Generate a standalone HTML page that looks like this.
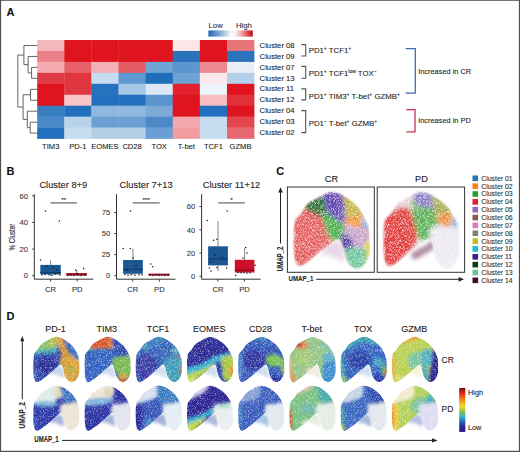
<!DOCTYPE html>
<html><head><meta charset="utf-8"><style>
html,body{margin:0;padding:0;background:#fff;}
body{width:520px;height:452px;overflow:hidden;}
svg{display:block;font-family:"Liberation Sans", sans-serif;} text{stroke:#2a2a2a;stroke-width:0.1px;}
</style></head><body>
<svg width="520" height="452" viewBox="0 0 520 452">
<defs>
<linearGradient id="gA" x1="0" x2="1" y1="0" y2="0">
 <stop offset="0" stop-color="#1f62ae"/><stop offset="0.3" stop-color="#8fb8e0"/>
 <stop offset="0.5" stop-color="#f7f7f7"/><stop offset="0.6" stop-color="#f7f3f3"/><stop offset="0.75" stop-color="#f2a2a4"/>
 <stop offset="0.92" stop-color="#e03038"/><stop offset="1" stop-color="#b4121e"/>
</linearGradient>
<linearGradient id="gD" x1="0" x2="0" y1="0" y2="1">
 <stop offset="0" stop-color="#7a0a0a"/><stop offset="0.12" stop-color="#e02818"/><stop offset="0.28" stop-color="#f08a20"/>
 <stop offset="0.42" stop-color="#f0dc28"/><stop offset="0.55" stop-color="#80c050"/><stop offset="0.65" stop-color="#30b8c8"/>
 <stop offset="0.75" stop-color="#2870c0"/><stop offset="0.88" stop-color="#2c2a98"/><stop offset="1" stop-color="#2a1670"/>
</linearGradient>

<path id="ushape" d="M48.00,0.50 C50.50,0.25 52.33,0.75 55.00,1.50 C57.67,2.25 60.83,3.25 64.00,5.00 C67.17,6.75 71.00,9.67 74.00,12.00 C77.00,14.33 79.67,16.50 82.00,19.00 C84.33,21.50 86.17,24.17 88.00,27.00 C89.83,29.83 91.50,32.50 93.00,36.00 C94.50,39.50 96.25,43.67 97.00,48.00 C97.75,52.33 97.42,57.33 97.50,62.00 C97.58,66.67 98.25,71.50 97.50,76.00 C96.75,80.50 95.25,85.58 93.00,89.00 C90.75,92.42 86.83,95.42 84.00,96.50 C81.17,97.58 78.50,96.92 76.00,95.50 C73.50,94.08 70.83,91.08 69.00,88.00 C67.17,84.92 66.08,80.67 65.00,77.00 C63.92,73.33 63.58,68.92 62.50,66.00 C61.42,63.08 60.25,59.83 58.50,59.50 C56.75,59.17 54.42,62.08 52.00,64.00 C49.58,65.92 47.00,68.33 44.00,71.00 C41.00,73.67 37.50,77.00 34.00,80.00 C30.50,83.00 26.67,86.25 23.00,89.00 C19.33,91.75 14.92,95.17 12.00,96.50 C9.08,97.83 7.25,98.42 5.50,97.00 C3.75,95.58 2.42,92.17 1.50,88.00 C0.58,83.83 0.25,77.50 0.00,72.00 C-0.25,66.50 -0.17,60.33 0.00,55.00 C0.17,49.67 0.33,43.58 1.00,40.00 C1.67,36.42 2.50,35.67 4.00,33.50 C5.50,31.33 8.25,29.33 10.00,27.00 C11.75,24.67 12.83,21.67 14.50,19.50 C16.17,17.33 17.58,15.75 20.00,14.00 C22.42,12.25 25.67,10.83 29.00,9.00 C32.33,7.17 36.83,4.42 40.00,3.00 C43.17,1.58 45.50,0.75 48.00,0.50Z"/>
<filter id="fe" filterUnits="userSpaceOnUse" x="-20" y="-20" width="140" height="140"><feGaussianBlur stdDeviation="1.1"/></filter>
<filter id="fn" filterUnits="userSpaceOnUse" x="-20" y="-20" width="140" height="140"><feGaussianBlur stdDeviation="3"/></filter>
<filter id="fb" filterUnits="userSpaceOnUse" x="-20" y="-20" width="140" height="140"><feGaussianBlur stdDeviation="3.2"/></filter>
<filter id="fc" filterUnits="userSpaceOnUse" x="-20" y="-20" width="140" height="140"><feGaussianBlur stdDeviation="2.4"/></filter>
<filter id="spk" filterUnits="userSpaceOnUse" x="-5" y="-5" width="110" height="110"><feTurbulence type="fractalNoise" baseFrequency="1.6" numOctaves="1" seed="4"/><feColorMatrix type="matrix" values="0 0 0 0 1  0 0 0 0 1  0 0 0 0 1  0 0 0 -1.9 0.98"/></filter>
<filter id="spkc" filterUnits="userSpaceOnUse" x="-5" y="-5" width="110" height="110"><feTurbulence type="fractalNoise" baseFrequency="1.3" numOctaves="1" seed="9"/><feColorMatrix type="matrix" values="0 0 0 0 1  0 0 0 0 1  0 0 0 0 1  0 0 0 -2.3 1.3"/></filter>
<mask id="mU" maskUnits="userSpaceOnUse" x="-20" y="-20" width="140" height="140"><use href="#ushape" fill="#fff" filter="url(#fe)"/></mask>
<path id="ushapec" d="M48.00,0.50 C50.50,0.25 52.33,0.75 55.00,1.50 C57.67,2.25 60.83,3.25 64.00,5.00 C67.17,6.75 71.00,9.67 74.00,12.00 C77.00,14.33 79.67,16.50 82.00,19.00 C84.33,21.50 86.17,24.17 88.00,27.00 C89.83,29.83 91.50,32.50 93.00,36.00 C94.50,39.50 96.25,43.67 97.00,48.00 C97.75,52.33 97.42,57.33 97.50,62.00 C97.58,66.67 98.25,71.50 97.50,76.00 C96.75,80.50 95.25,85.58 93.00,89.00 C90.75,92.42 86.83,95.42 84.00,96.50 C81.17,97.58 78.50,96.92 76.00,95.50 C73.50,94.08 70.83,91.08 69.00,88.00 C67.17,84.92 66.08,80.67 65.00,77.00 C63.92,73.33 63.58,68.92 62.50,66.00 C61.42,63.08 60.25,60.17 58.50,59.50 C56.75,58.83 54.42,60.58 52.00,62.00 C49.58,63.42 47.00,65.67 44.00,68.00 C41.00,70.33 37.50,73.17 34.00,76.00 C30.50,78.83 26.50,82.33 23.00,85.00 C19.50,87.67 15.83,90.58 13.00,92.00 C10.17,93.42 7.92,94.50 6.00,93.50 C4.08,92.50 2.50,89.58 1.50,86.00 C0.50,82.42 0.25,77.17 0.00,72.00 C-0.25,66.83 -0.17,60.33 0.00,55.00 C0.17,49.67 0.33,43.58 1.00,40.00 C1.67,36.42 2.50,35.67 4.00,33.50 C5.50,31.33 8.25,29.33 10.00,27.00 C11.75,24.67 12.83,21.67 14.50,19.50 C16.17,17.33 17.58,15.75 20.00,14.00 C22.42,12.25 25.67,10.83 29.00,9.00 C32.33,7.17 36.83,4.42 40.00,3.00 C43.17,1.58 45.50,0.75 48.00,0.50Z"/>
<mask id="mUc" maskUnits="userSpaceOnUse" x="-20" y="-20" width="140" height="140"><use href="#ushapec" fill="#fff" filter="url(#fe)"/></mask>
</defs>
<rect x="0" y="0" width="520" height="452" fill="#fff"/>
<text x="6.4" y="16.2" font-size="11" text-anchor="start" font-weight="bold" fill="#111" >A</text>
<rect x="208.4" y="30.4" width="44.4" height="6.2" fill="url(#gA)"/>
<text x="208.5" y="28.3" font-size="7.8" text-anchor="start" font-weight="normal" fill="#333" >Low</text>
<text x="235.9" y="28.3" font-size="7.8" text-anchor="start" font-weight="normal" fill="#333" >High</text>
<rect x="37.20" y="40.00" width="27.41" height="11.25" fill="#f4b8bc"/>
<rect x="64.31" y="40.00" width="27.41" height="11.25" fill="#e0141e"/>
<rect x="91.42" y="40.00" width="27.41" height="11.25" fill="#e0141e"/>
<rect x="118.53" y="40.00" width="27.41" height="11.25" fill="#e0141e"/>
<rect x="145.64" y="40.00" width="27.41" height="11.25" fill="#e0141e"/>
<rect x="172.75" y="40.00" width="27.41" height="11.25" fill="#fce6e8"/>
<rect x="199.86" y="40.00" width="27.41" height="11.25" fill="#e0141e"/>
<rect x="226.97" y="40.00" width="27.41" height="11.25" fill="#e8747a"/>
<rect x="37.20" y="50.95" width="27.41" height="11.25" fill="#ec8088"/>
<rect x="64.31" y="50.95" width="27.41" height="11.25" fill="#e0141e"/>
<rect x="91.42" y="50.95" width="27.41" height="11.25" fill="#e0141e"/>
<rect x="118.53" y="50.95" width="27.41" height="11.25" fill="#e0141e"/>
<rect x="145.64" y="50.95" width="27.41" height="11.25" fill="#e0141e"/>
<rect x="172.75" y="50.95" width="27.41" height="11.25" fill="#2a72bc"/>
<rect x="199.86" y="50.95" width="27.41" height="11.25" fill="#e0141e"/>
<rect x="226.97" y="50.95" width="27.41" height="11.25" fill="#2a72bc"/>
<rect x="37.20" y="61.90" width="27.41" height="11.25" fill="#f4acb0"/>
<rect x="64.31" y="61.90" width="27.41" height="11.25" fill="#e8606a"/>
<rect x="91.42" y="61.90" width="27.41" height="11.25" fill="#f4b0b4"/>
<rect x="118.53" y="61.90" width="27.41" height="11.25" fill="#e55a63"/>
<rect x="145.64" y="61.90" width="27.41" height="11.25" fill="#70a4d6"/>
<rect x="172.75" y="61.90" width="27.41" height="11.25" fill="#5a96cf"/>
<rect x="199.86" y="61.90" width="27.41" height="11.25" fill="#ee8890"/>
<rect x="226.97" y="61.90" width="27.41" height="11.25" fill="#e8eef8"/>
<rect x="37.20" y="72.85" width="27.41" height="11.25" fill="#e03c46"/>
<rect x="64.31" y="72.85" width="27.41" height="11.25" fill="#e0363f"/>
<rect x="91.42" y="72.85" width="27.41" height="11.25" fill="#c6dcf0"/>
<rect x="118.53" y="72.85" width="27.41" height="11.25" fill="#5e98d0"/>
<rect x="145.64" y="72.85" width="27.41" height="11.25" fill="#1f6ebc"/>
<rect x="172.75" y="72.85" width="27.41" height="11.25" fill="#6ca2d4"/>
<rect x="199.86" y="72.85" width="27.41" height="11.25" fill="#fce8ea"/>
<rect x="226.97" y="72.85" width="27.41" height="11.25" fill="#b4d0ea"/>
<rect x="37.20" y="83.80" width="27.41" height="11.25" fill="#e0141e"/>
<rect x="64.31" y="83.80" width="27.41" height="11.25" fill="#e0363f"/>
<rect x="91.42" y="83.80" width="27.41" height="11.25" fill="#2672bd"/>
<rect x="118.53" y="83.80" width="27.41" height="11.25" fill="#a6c6e6"/>
<rect x="145.64" y="83.80" width="27.41" height="11.25" fill="#dde8f4"/>
<rect x="172.75" y="83.80" width="27.41" height="11.25" fill="#e2232d"/>
<rect x="199.86" y="83.80" width="27.41" height="11.25" fill="#eef4fb"/>
<rect x="226.97" y="83.80" width="27.41" height="11.25" fill="#e0141e"/>
<rect x="37.20" y="94.75" width="27.41" height="11.25" fill="#e0141e"/>
<rect x="64.31" y="94.75" width="27.41" height="11.25" fill="#f8c4c8"/>
<rect x="91.42" y="94.75" width="27.41" height="11.25" fill="#2270bd"/>
<rect x="118.53" y="94.75" width="27.41" height="11.25" fill="#2270bd"/>
<rect x="145.64" y="94.75" width="27.41" height="11.25" fill="#5a94cf"/>
<rect x="172.75" y="94.75" width="27.41" height="11.25" fill="#e0141e"/>
<rect x="199.86" y="94.75" width="27.41" height="11.25" fill="#f8c0c4"/>
<rect x="226.97" y="94.75" width="27.41" height="11.25" fill="#e0303a"/>
<rect x="37.20" y="105.70" width="27.41" height="11.25" fill="#3a7ec2"/>
<rect x="64.31" y="105.70" width="27.41" height="11.25" fill="#2270bd"/>
<rect x="91.42" y="105.70" width="27.41" height="11.25" fill="#90b8de"/>
<rect x="118.53" y="105.70" width="27.41" height="11.25" fill="#90b8de"/>
<rect x="145.64" y="105.70" width="27.41" height="11.25" fill="#7eaad8"/>
<rect x="172.75" y="105.70" width="27.41" height="11.25" fill="#e0141e"/>
<rect x="199.86" y="105.70" width="27.41" height="11.25" fill="#2270bd"/>
<rect x="226.97" y="105.70" width="27.41" height="11.25" fill="#e0141e"/>
<rect x="37.20" y="116.65" width="27.41" height="11.25" fill="#4a88c8"/>
<rect x="64.31" y="116.65" width="27.41" height="11.25" fill="#b8d2ea"/>
<rect x="91.42" y="116.65" width="27.41" height="11.25" fill="#6a9ed4"/>
<rect x="118.53" y="116.65" width="27.41" height="11.25" fill="#6a9ed4"/>
<rect x="145.64" y="116.65" width="27.41" height="11.25" fill="#4a88c8"/>
<rect x="172.75" y="116.65" width="27.41" height="11.25" fill="#f4a8ae"/>
<rect x="199.86" y="116.65" width="27.41" height="11.25" fill="#c8dcf0"/>
<rect x="226.97" y="116.65" width="27.41" height="11.25" fill="#e4464f"/>
<rect x="37.20" y="127.60" width="27.41" height="11.25" fill="#2270bd"/>
<rect x="64.31" y="127.60" width="27.41" height="11.25" fill="#c8dcf0"/>
<rect x="91.42" y="127.60" width="27.41" height="11.25" fill="#b4cee8"/>
<rect x="118.53" y="127.60" width="27.41" height="11.25" fill="#b4cee8"/>
<rect x="145.64" y="127.60" width="27.41" height="11.25" fill="#6a9ed4"/>
<rect x="172.75" y="127.60" width="27.41" height="11.25" fill="#f29ca2"/>
<rect x="199.86" y="127.60" width="27.41" height="11.25" fill="#c8dcf0"/>
<rect x="226.97" y="127.60" width="27.41" height="11.25" fill="#e8686f"/>
<text x="50.76" y="148.7" font-size="7.6" text-anchor="middle" font-weight="normal" fill="#222" >TIM3</text>
<text x="77.87" y="148.7" font-size="7.6" text-anchor="middle" font-weight="normal" fill="#222" >PD-1</text>
<text x="104.97" y="148.7" font-size="7.6" text-anchor="middle" font-weight="normal" fill="#222" >EOMES</text>
<text x="132.09" y="148.7" font-size="7.6" text-anchor="middle" font-weight="normal" fill="#222" >CD28</text>
<text x="159.19" y="148.7" font-size="7.6" text-anchor="middle" font-weight="normal" fill="#222" >TOX</text>
<text x="186.31" y="148.7" font-size="7.6" text-anchor="middle" font-weight="normal" fill="#222" >T-bet</text>
<text x="213.42" y="148.7" font-size="7.6" text-anchor="middle" font-weight="normal" fill="#222" >TCF1</text>
<text x="240.52" y="148.7" font-size="7.6" text-anchor="middle" font-weight="normal" fill="#222" >GZMB</text>
<text x="259.6" y="47.68" font-size="7.7" text-anchor="start" font-weight="normal" fill="#222" >Cluster 08</text>
<text x="259.6" y="58.63" font-size="7.7" text-anchor="start" font-weight="normal" fill="#222" >Cluster 09</text>
<text x="259.6" y="69.58" font-size="7.7" text-anchor="start" font-weight="normal" fill="#222" >Cluster 07</text>
<text x="259.6" y="80.52" font-size="7.7" text-anchor="start" font-weight="normal" fill="#222" >Cluster 13</text>
<text x="259.6" y="91.47" font-size="7.7" text-anchor="start" font-weight="normal" fill="#222" >Cluster 11</text>
<text x="259.6" y="102.42" font-size="7.7" text-anchor="start" font-weight="normal" fill="#222" >Cluster 12</text>
<text x="259.6" y="113.37" font-size="7.7" text-anchor="start" font-weight="normal" fill="#222" >Cluster 04</text>
<text x="259.6" y="124.32" font-size="7.7" text-anchor="start" font-weight="normal" fill="#222" >Cluster 03</text>
<text x="259.6" y="135.27" font-size="7.7" text-anchor="start" font-weight="normal" fill="#222" >Cluster 02</text>
<line x1="23.9" y1="45.5" x2="37.3" y2="45.5" stroke="#555" stroke-width="0.9"/>
<line x1="23.9" y1="45.5" x2="23.9" y2="64.6" stroke="#555" stroke-width="0.9"/>
<line x1="28.1" y1="56.45" x2="37.3" y2="56.45" stroke="#555" stroke-width="0.9"/>
<line x1="28.1" y1="56.45" x2="28.1" y2="72.95" stroke="#555" stroke-width="0.9"/>
<line x1="23.9" y1="64.6" x2="28.1" y2="64.6" stroke="#555" stroke-width="0.9"/>
<line x1="31.6" y1="67.4" x2="37.3" y2="67.4" stroke="#555" stroke-width="0.9"/>
<line x1="31.6" y1="67.4" x2="31.6" y2="78.35" stroke="#555" stroke-width="0.9"/>
<line x1="31.6" y1="78.35" x2="37.3" y2="78.35" stroke="#555" stroke-width="0.9"/>
<line x1="28.1" y1="72.95" x2="31.6" y2="72.95" stroke="#555" stroke-width="0.9"/>
<line x1="17.8" y1="55.05" x2="23.9" y2="55.05" stroke="#555" stroke-width="0.9"/>
<line x1="30.5" y1="89.3" x2="37.3" y2="89.3" stroke="#555" stroke-width="0.9"/>
<line x1="30.5" y1="100.25" x2="37.3" y2="100.25" stroke="#555" stroke-width="0.9"/>
<line x1="30.5" y1="89.3" x2="30.5" y2="100.25" stroke="#555" stroke-width="0.9"/>
<line x1="23.1" y1="94.75" x2="30.5" y2="94.75" stroke="#555" stroke-width="0.9"/>
<line x1="27.3" y1="111.2" x2="37.3" y2="111.2" stroke="#555" stroke-width="0.9"/>
<line x1="30.2" y1="122.15" x2="37.3" y2="122.15" stroke="#555" stroke-width="0.9"/>
<line x1="30.2" y1="133.1" x2="37.3" y2="133.1" stroke="#555" stroke-width="0.9"/>
<line x1="30.2" y1="122.15" x2="30.2" y2="133.1" stroke="#555" stroke-width="0.9"/>
<line x1="27.3" y1="127.65" x2="30.2" y2="127.65" stroke="#555" stroke-width="0.9"/>
<line x1="27.3" y1="111.2" x2="27.3" y2="127.65" stroke="#555" stroke-width="0.9"/>
<line x1="23.1" y1="119.45" x2="27.3" y2="119.45" stroke="#555" stroke-width="0.9"/>
<line x1="23.1" y1="94.75" x2="23.1" y2="119.45" stroke="#555" stroke-width="0.9"/>
<line x1="17.8" y1="107.05" x2="23.1" y2="107.05" stroke="#555" stroke-width="0.9"/>
<line x1="17.8" y1="55.05" x2="17.8" y2="107.05" stroke="#555" stroke-width="0.9"/>
<path d="M301.4,44.6 H305.7 V56.0 H301.4" fill="none" stroke="#555" stroke-width="1.1"/>
<path d="M301.4,66.4 H305.7 V78.2 H301.4" fill="none" stroke="#555" stroke-width="1.1"/>
<path d="M301.4,88.9 H305.7 V99.9 H301.4" fill="none" stroke="#555" stroke-width="1.1"/>
<path d="M301.4,110.6 H305.7 V132.6 H301.4" fill="none" stroke="#555" stroke-width="1.1"/>
<path d="M405.7,48.6 H415.3 V93.2 H405.7" fill="none" stroke="#3d6fae" stroke-width="1.3"/>
<path d="M406.4,109.6 H415.0 V131.8 H406.4" fill="none" stroke="#c8334f" stroke-width="1.3"/>
<text x="308.7" y="52.9" font-size="7.8" fill="#222">PD1<tspan font-size="5" dy="-2.8">+</tspan><tspan dy="2.8"> TCF1</tspan><tspan font-size="5" dy="-2.8">+</tspan></text>
<text x="308.7" y="75.9" font-size="7.8" fill="#222">PD1<tspan font-size="5" dy="-2.8">+</tspan><tspan dy="2.8"> TCF1</tspan><tspan font-size="5" dy="-2.8">low</tspan><tspan dy="2.8"> TOX</tspan><tspan font-size="5" dy="-2.8">&#8722;</tspan></text>
<text x="308.7" y="98.6" font-size="7.8" fill="#222">PD1<tspan font-size="5" dy="-2.8">+</tspan><tspan dy="2.8"> TIM3</tspan><tspan font-size="5" dy="-2.8">+</tspan><tspan dy="2.8"> T-bet</tspan><tspan font-size="5" dy="-2.8">+</tspan><tspan dy="2.8"> GZMB</tspan><tspan font-size="5" dy="-2.8">+</tspan></text>
<text x="308.7" y="125.8" font-size="7.8" fill="#222">PD1<tspan font-size="5" dy="-2.8">&#8722;</tspan><tspan dy="2.8"> T-bet</tspan><tspan font-size="5" dy="-2.8">+</tspan><tspan dy="2.8"> GZMB</tspan><tspan font-size="5" dy="-2.8">+</tspan></text>
<text x="418.2" y="73.6" font-size="7.4" text-anchor="start" font-weight="normal" fill="#222" >Increased in CR</text>
<text x="418.2" y="123.2" font-size="7.4" text-anchor="start" font-weight="normal" fill="#222" >Increased in PD</text>
<text x="6.6" y="174.6" font-size="11" text-anchor="start" font-weight="bold" fill="#111" >B</text>
<text transform="translate(14.6,250.6) rotate(-90)" font-size="8.2" fill="#222" textLength="27" lengthAdjust="spacingAndGlyphs">% Cluster</text>
<text x="63.3" y="188.0" font-size="9.3" text-anchor="middle" font-weight="normal" fill="#222" >Cluster 8+9</text>
<line x1="34.3" y1="194.2" x2="34.3" y2="279.2" stroke="#333" stroke-width="1"/>
<line x1="34.3" y1="279.2" x2="93.3" y2="279.2" stroke="#333" stroke-width="1"/>
<line x1="32.099999999999994" y1="195.9" x2="34.3" y2="195.9" stroke="#333" stroke-width="0.9"/>
<text x="27.999999999999996" y="198.6" font-size="7.6" text-anchor="end" font-weight="normal" fill="#3a3a3a" >60</text>
<line x1="32.099999999999994" y1="222.5" x2="34.3" y2="222.5" stroke="#333" stroke-width="0.9"/>
<text x="27.999999999999996" y="225.2" font-size="7.6" text-anchor="end" font-weight="normal" fill="#3a3a3a" >40</text>
<line x1="32.099999999999994" y1="249.1" x2="34.3" y2="249.1" stroke="#333" stroke-width="0.9"/>
<text x="27.999999999999996" y="251.79999999999998" font-size="7.6" text-anchor="end" font-weight="normal" fill="#3a3a3a" >20</text>
<line x1="32.099999999999994" y1="275.7" x2="34.3" y2="275.7" stroke="#333" stroke-width="0.9"/>
<text x="27.999999999999996" y="278.4" font-size="7.6" text-anchor="end" font-weight="normal" fill="#3a3a3a" >0</text>
<line x1="50.599999999999994" y1="279.2" x2="50.599999999999994" y2="281.6" stroke="#333" stroke-width="0.9"/>
<text x="50.599999999999994" y="291.6" font-size="7.6" text-anchor="middle" font-weight="normal" fill="#333" >CR</text>
<line x1="77.19999999999999" y1="279.2" x2="77.19999999999999" y2="281.6" stroke="#333" stroke-width="0.9"/>
<text x="77.19999999999999" y="291.6" font-size="7.6" text-anchor="middle" font-weight="normal" fill="#333" >PD</text>
<line x1="50.4" y1="202.9" x2="77.0" y2="202.9" stroke="#707070" stroke-width="1.3"/>
<text x="63.7" y="202.3" font-size="6.2" text-anchor="middle" font-weight="normal" fill="#333" >**</text>
<line x1="50.55" y1="260.5" x2="50.55" y2="264.9" stroke="#777" stroke-width="0.9"/>
<line x1="50.55" y1="274.4" x2="50.55" y2="276.2" stroke="#777" stroke-width="0.9"/>
<rect x="40.3" y="264.9" width="20.5" height="9.5" fill="#1b5793"/>
<line x1="40.3" y1="272.6" x2="60.8" y2="272.6" stroke="#123e6e" stroke-width="1.2"/>
<line x1="76.65" y1="270" x2="76.65" y2="273.0" stroke="#777" stroke-width="0.9"/>
<line x1="76.65" y1="275.5" x2="76.65" y2="276" stroke="#777" stroke-width="0.9"/>
<rect x="66.3" y="273.0" width="20.700000000000003" height="2.5" fill="#c41a34"/>
<line x1="66.3" y1="274.6" x2="87.0" y2="274.6" stroke="#8a1426" stroke-width="1.2"/>
<circle cx="45.4" cy="211" r="0.75" fill="#111"/>
<circle cx="59.3" cy="220.9" r="0.75" fill="#111"/>
<circle cx="40.5" cy="260" r="0.75" fill="#111"/>
<circle cx="42" cy="275" r="0.75" fill="#111"/>
<circle cx="45" cy="274.5" r="0.75" fill="#111"/>
<circle cx="49" cy="274.8" r="0.75" fill="#111"/>
<circle cx="52" cy="275.2" r="0.75" fill="#111"/>
<circle cx="55" cy="274" r="0.75" fill="#111"/>
<circle cx="58" cy="273.5" r="0.75" fill="#111"/>
<circle cx="60" cy="275" r="0.75" fill="#111"/>
<circle cx="47" cy="266" r="0.75" fill="#111"/>
<circle cx="53" cy="268" r="0.75" fill="#111"/>
<circle cx="57" cy="270" r="0.75" fill="#111"/>
<circle cx="75.7" cy="270" r="0.75" fill="#111"/>
<circle cx="83.6" cy="268.5" r="0.75" fill="#111"/>
<circle cx="68" cy="275.4" r="0.75" fill="#111"/>
<circle cx="71" cy="275.2" r="0.75" fill="#111"/>
<circle cx="74" cy="275.5" r="0.75" fill="#111"/>
<circle cx="78" cy="275.1" r="0.75" fill="#111"/>
<circle cx="81" cy="275.4" r="0.75" fill="#111"/>
<circle cx="85" cy="275.3" r="0.75" fill="#111"/>
<circle cx="70" cy="274" r="0.75" fill="#111"/>
<circle cx="77" cy="273.6" r="0.75" fill="#111"/>
<circle cx="82" cy="274.2" r="0.75" fill="#111"/>
<text x="146.1" y="188.0" font-size="9.3" text-anchor="middle" font-weight="normal" fill="#222" >Cluster 7+13</text>
<line x1="116.5" y1="194.2" x2="116.5" y2="279.2" stroke="#333" stroke-width="1"/>
<line x1="116.5" y1="279.2" x2="175.5" y2="279.2" stroke="#333" stroke-width="1"/>
<line x1="114.3" y1="212.5" x2="116.5" y2="212.5" stroke="#333" stroke-width="0.9"/>
<text x="110.2" y="215.2" font-size="7.6" text-anchor="end" font-weight="normal" fill="#3a3a3a" >75</text>
<line x1="114.3" y1="233.5" x2="116.5" y2="233.5" stroke="#333" stroke-width="0.9"/>
<text x="110.2" y="236.2" font-size="7.6" text-anchor="end" font-weight="normal" fill="#3a3a3a" >50</text>
<line x1="114.3" y1="254.6" x2="116.5" y2="254.6" stroke="#333" stroke-width="0.9"/>
<text x="110.2" y="257.3" font-size="7.6" text-anchor="end" font-weight="normal" fill="#3a3a3a" >25</text>
<line x1="114.3" y1="275.6" x2="116.5" y2="275.6" stroke="#333" stroke-width="0.9"/>
<text x="110.2" y="278.3" font-size="7.6" text-anchor="end" font-weight="normal" fill="#3a3a3a" >0</text>
<line x1="132.8" y1="279.2" x2="132.8" y2="281.6" stroke="#333" stroke-width="0.9"/>
<text x="132.8" y="291.6" font-size="7.6" text-anchor="middle" font-weight="normal" fill="#333" >CR</text>
<line x1="159.4" y1="279.2" x2="159.4" y2="281.6" stroke="#333" stroke-width="0.9"/>
<text x="159.4" y="291.6" font-size="7.6" text-anchor="middle" font-weight="normal" fill="#333" >PD</text>
<line x1="132.7" y1="202.9" x2="159.7" y2="202.9" stroke="#707070" stroke-width="1.3"/>
<text x="146.2" y="202.3" font-size="6.2" text-anchor="middle" font-weight="normal" fill="#333" >***</text>
<line x1="132.95" y1="248.6" x2="132.95" y2="260.0" stroke="#777" stroke-width="0.9"/>
<line x1="132.95" y1="273.8" x2="132.95" y2="275.0" stroke="#777" stroke-width="0.9"/>
<rect x="123.1" y="260.0" width="19.700000000000017" height="13.800000000000011" fill="#1b5793"/>
<line x1="123.1" y1="269.2" x2="142.8" y2="269.2" stroke="#123e6e" stroke-width="1.2"/>
<line x1="159.0" y1="274" x2="159.0" y2="273.6" stroke="#777" stroke-width="0.9"/>
<line x1="159.0" y1="275.5" x2="159.0" y2="275.6" stroke="#777" stroke-width="0.9"/>
<rect x="148.5" y="273.6" width="21.0" height="1.8999999999999773" fill="#c41a34"/>
<line x1="148.5" y1="274.6" x2="169.5" y2="274.6" stroke="#8a1426" stroke-width="1.2"/>
<circle cx="130.5" cy="211" r="0.75" fill="#111"/>
<circle cx="123.2" cy="248.6" r="0.75" fill="#111"/>
<circle cx="130.3" cy="248.6" r="0.75" fill="#111"/>
<circle cx="133.1" cy="257.9" r="0.75" fill="#111"/>
<circle cx="125" cy="274.5" r="0.75" fill="#111"/>
<circle cx="128" cy="275" r="0.75" fill="#111"/>
<circle cx="131" cy="274.7" r="0.75" fill="#111"/>
<circle cx="135" cy="275.2" r="0.75" fill="#111"/>
<circle cx="139" cy="274.8" r="0.75" fill="#111"/>
<circle cx="142" cy="275" r="0.75" fill="#111"/>
<circle cx="127" cy="270" r="0.75" fill="#111"/>
<circle cx="136" cy="266" r="0.75" fill="#111"/>
<circle cx="150.8" cy="264" r="0.75" fill="#111"/>
<circle cx="152.6" cy="266.7" r="0.75" fill="#111"/>
<circle cx="150" cy="275.3" r="0.75" fill="#111"/>
<circle cx="153" cy="275.5" r="0.75" fill="#111"/>
<circle cx="156" cy="275.2" r="0.75" fill="#111"/>
<circle cx="159" cy="275.4" r="0.75" fill="#111"/>
<circle cx="162" cy="275.3" r="0.75" fill="#111"/>
<circle cx="165" cy="275.5" r="0.75" fill="#111"/>
<circle cx="168" cy="275.2" r="0.75" fill="#111"/>
<text x="231.5" y="188.0" font-size="9.3" text-anchor="middle" font-weight="normal" fill="#222" >Cluster 11+12</text>
<line x1="201.6" y1="194.2" x2="201.6" y2="279.2" stroke="#333" stroke-width="1"/>
<line x1="201.6" y1="279.2" x2="260.6" y2="279.2" stroke="#333" stroke-width="1"/>
<line x1="199.4" y1="206.5" x2="201.6" y2="206.5" stroke="#333" stroke-width="0.9"/>
<text x="195.29999999999998" y="209.2" font-size="7.6" text-anchor="end" font-weight="normal" fill="#3a3a3a" >60</text>
<line x1="199.4" y1="229.8" x2="201.6" y2="229.8" stroke="#333" stroke-width="0.9"/>
<text x="195.29999999999998" y="232.5" font-size="7.6" text-anchor="end" font-weight="normal" fill="#3a3a3a" >40</text>
<line x1="199.4" y1="253.0" x2="201.6" y2="253.0" stroke="#333" stroke-width="0.9"/>
<text x="195.29999999999998" y="255.7" font-size="7.6" text-anchor="end" font-weight="normal" fill="#3a3a3a" >20</text>
<line x1="199.4" y1="276.2" x2="201.6" y2="276.2" stroke="#333" stroke-width="0.9"/>
<text x="195.29999999999998" y="278.9" font-size="7.6" text-anchor="end" font-weight="normal" fill="#3a3a3a" >0</text>
<line x1="217.9" y1="279.2" x2="217.9" y2="281.6" stroke="#333" stroke-width="0.9"/>
<text x="217.9" y="291.6" font-size="7.6" text-anchor="middle" font-weight="normal" fill="#333" >CR</text>
<line x1="244.5" y1="279.2" x2="244.5" y2="281.6" stroke="#333" stroke-width="0.9"/>
<text x="244.5" y="291.6" font-size="7.6" text-anchor="middle" font-weight="normal" fill="#333" >PD</text>
<line x1="218.2" y1="202.9" x2="244.8" y2="202.9" stroke="#707070" stroke-width="1.3"/>
<text x="231.5" y="202.3" font-size="6.2" text-anchor="middle" font-weight="normal" fill="#333" >*</text>
<line x1="218.0" y1="221.0" x2="218.0" y2="246.3" stroke="#777" stroke-width="0.9"/>
<line x1="218.0" y1="265.4" x2="218.0" y2="271.0" stroke="#777" stroke-width="0.9"/>
<rect x="208.1" y="246.3" width="19.80000000000001" height="19.099999999999966" fill="#1b5793"/>
<line x1="208.1" y1="259.0" x2="227.9" y2="259.0" stroke="#123e6e" stroke-width="1.2"/>
<line x1="244.60000000000002" y1="248.0" x2="244.60000000000002" y2="259.8" stroke="#777" stroke-width="0.9"/>
<line x1="244.60000000000002" y1="272.5" x2="244.60000000000002" y2="272.8" stroke="#777" stroke-width="0.9"/>
<rect x="234.8" y="259.8" width="19.599999999999994" height="12.699999999999989" fill="#d0102a"/>
<line x1="234.8" y1="270.2" x2="254.4" y2="270.2" stroke="#7a1020" stroke-width="1.2"/>
<circle cx="207.2" cy="220.5" r="0.75" fill="#111"/>
<circle cx="216.9" cy="239.3" r="0.75" fill="#111"/>
<circle cx="213.6" cy="240.2" r="0.75" fill="#111"/>
<circle cx="227.1" cy="211" r="0.75" fill="#111"/>
<circle cx="209.5" cy="268" r="0.75" fill="#111"/>
<circle cx="211" cy="271" r="0.75" fill="#111"/>
<circle cx="217" cy="267.5" r="0.75" fill="#111"/>
<circle cx="226.5" cy="268" r="0.75" fill="#111"/>
<circle cx="210" cy="262" r="0.75" fill="#111"/>
<circle cx="222" cy="258" r="0.75" fill="#111"/>
<circle cx="215" cy="255" r="0.75" fill="#111"/>
<circle cx="245.7" cy="247.5" r="0.75" fill="#111"/>
<circle cx="247" cy="253" r="0.75" fill="#111"/>
<circle cx="243" cy="258" r="0.75" fill="#111"/>
<circle cx="255.2" cy="265.2" r="0.75" fill="#111"/>
<circle cx="235.7" cy="275.6" r="0.75" fill="#111"/>
<circle cx="238" cy="272.5" r="0.75" fill="#111"/>
<circle cx="241" cy="272.8" r="0.75" fill="#111"/>
<circle cx="244" cy="272.6" r="0.75" fill="#111"/>
<circle cx="247" cy="272.9" r="0.75" fill="#111"/>
<circle cx="250" cy="272.7" r="0.75" fill="#111"/>
<text x="276.3" y="174.6" font-size="11" text-anchor="start" font-weight="bold" fill="#111" >C</text>
<text x="331.4" y="182.2" font-size="9.2" text-anchor="middle" font-weight="normal" fill="#222" >CR</text>
<text x="421.4" y="182.2" font-size="9.2" text-anchor="middle" font-weight="normal" fill="#222" >PD</text>
<rect x="287.4" y="187.0" width="86.9" height="85.3" fill="none" stroke="#333" stroke-width="1"/>
<rect x="377.2" y="187.0" width="87.4" height="85.3" fill="none" stroke="#333" stroke-width="1"/>
<rect x="472.5" y="175.50" width="5.6" height="5.6" fill="#1f77b4"/>
<text x="481.2" y="180.7" font-size="6.9" text-anchor="start" font-weight="normal" fill="#333" >Cluster 01</text>
<rect x="472.5" y="183.35" width="5.6" height="5.6" fill="#ff7f0e"/>
<text x="481.2" y="188.55" font-size="6.9" text-anchor="start" font-weight="normal" fill="#333" >Cluster 02</text>
<rect x="472.5" y="191.20" width="5.6" height="5.6" fill="#2ca02c"/>
<text x="481.2" y="196.4" font-size="6.9" text-anchor="start" font-weight="normal" fill="#333" >Cluster 03</text>
<rect x="472.5" y="199.05" width="5.6" height="5.6" fill="#d62728"/>
<text x="481.2" y="204.25" font-size="6.9" text-anchor="start" font-weight="normal" fill="#333" >Cluster 04</text>
<rect x="472.5" y="206.90" width="5.6" height="5.6" fill="#9467bd"/>
<text x="481.2" y="212.1" font-size="6.9" text-anchor="start" font-weight="normal" fill="#333" >Cluster 05</text>
<rect x="472.5" y="214.75" width="5.6" height="5.6" fill="#8c564b"/>
<text x="481.2" y="219.95" font-size="6.9" text-anchor="start" font-weight="normal" fill="#333" >Cluster 06</text>
<rect x="472.5" y="222.60" width="5.6" height="5.6" fill="#e377c2"/>
<text x="481.2" y="227.8" font-size="6.9" text-anchor="start" font-weight="normal" fill="#333" >Cluster 07</text>
<rect x="472.5" y="230.45" width="5.6" height="5.6" fill="#7f7f7f"/>
<text x="481.2" y="235.65" font-size="6.9" text-anchor="start" font-weight="normal" fill="#333" >Cluster 08</text>
<rect x="472.5" y="238.30" width="5.6" height="5.6" fill="#bcbd22"/>
<text x="481.2" y="243.5" font-size="6.9" text-anchor="start" font-weight="normal" fill="#333" >Cluster 09</text>
<rect x="472.5" y="246.15" width="5.6" height="5.6" fill="#17becf"/>
<text x="481.2" y="251.35" font-size="6.9" text-anchor="start" font-weight="normal" fill="#333" >Cluster 10</text>
<rect x="472.5" y="254.00" width="5.6" height="5.6" fill="#3b1f8e"/>
<text x="481.2" y="259.2" font-size="6.9" text-anchor="start" font-weight="normal" fill="#333" >Cluster 11</text>
<rect x="472.5" y="261.85" width="5.6" height="5.6" fill="#0d3b12"/>
<text x="481.2" y="267.05" font-size="6.9" text-anchor="start" font-weight="normal" fill="#333" >Cluster 12</text>
<rect x="472.5" y="269.70" width="5.6" height="5.6" fill="#6cc49c"/>
<text x="481.2" y="274.9" font-size="6.9" text-anchor="start" font-weight="normal" fill="#333" >Cluster 13</text>
<rect x="472.5" y="277.55" width="5.6" height="5.6" fill="#4a0a2e"/>
<text x="481.2" y="282.75" font-size="6.9" text-anchor="start" font-weight="normal" fill="#333" >Cluster 14</text>
<line x1="280.5" y1="191.5" x2="280.5" y2="243.5" stroke="#222" stroke-width="1"/>
<path d="M278.2,192.6 L280.5,187.2 L282.8,192.6 Z" fill="#222"/>
<text transform="translate(282.9,271.3) rotate(-90)" font-size="8.6" font-weight="bold" fill="#222" textLength="24.6" lengthAdjust="spacingAndGlyphs">UMAP_2</text>
<text x="288.6" y="281.2" font-size="8.0" font-weight="bold" fill="#222" textLength="24.8" lengthAdjust="spacingAndGlyphs">UMAP_1</text>
<line x1="316.2" y1="279.3" x2="460" y2="279.3" stroke="#222" stroke-width="1"/>
<path d="M458.6,276.9 L464.0,279.3 L458.6,281.7 Z" fill="#222"/>
<g transform="translate(293.5,191.3) scale(0.78,0.8)">
<path d="M40.00,68.00 C42.33,65.33 46.50,64.67 50.00,64.00 C53.50,63.33 58.50,61.33 61.00,64.00 C63.50,66.67 64.50,76.00 65.00,80.00 C65.50,84.00 65.67,87.33 64.00,88.00 C62.33,88.67 58.17,85.33 55.00,84.00 C51.83,82.67 48.17,80.67 45.00,80.00 C41.83,79.33 36.83,82.00 36.00,80.00 C35.17,78.00 37.67,70.67 40.00,68.00Z" fill="#d0a8c8" fill-opacity="0.45" filter="url(#fn)"/>
<g mask="url(#mUc)">
<use href="#ushapec" fill="#e4a0a0"/>
<g filter="url(#fc)">
<path d="M0.00,36.00 C0.55,28.92 1.43,29.17 3.30,27.00 C5.17,24.83 9.02,23.90 11.20,23.00 C13.38,22.10 14.22,21.18 16.40,21.60 C18.58,22.02 21.67,24.00 24.30,25.50 C26.93,27.00 29.78,28.88 32.20,30.60 C34.62,32.32 36.60,33.00 38.80,35.80 C41.00,38.60 43.65,43.32 45.40,47.40 C47.15,51.48 48.87,57.28 49.30,60.30 C49.73,63.32 50.18,63.33 48.00,65.50 C45.82,67.67 40.58,69.83 36.20,73.30 C31.82,76.77 25.30,83.05 21.70,86.30 C18.10,89.55 17.23,91.50 14.60,92.80 C11.97,94.10 8.22,95.18 5.90,94.10 C3.58,93.02 1.68,90.40 0.70,86.30 C-0.28,82.20 0.12,77.88 0.00,69.50 C-0.12,61.12 -0.55,43.08 0.00,36.00Z" fill="#e45c5c"/>
<path d="M13.80,17.60 C14.47,15.70 16.68,12.80 19.10,11.20 C21.52,9.60 25.45,8.87 28.30,8.00 C31.15,7.13 34.23,5.47 36.20,6.00 C38.17,6.53 39.00,8.17 40.10,11.20 C41.20,14.23 42.58,20.32 42.80,24.20 C43.02,28.08 42.72,33.22 41.40,34.50 C40.08,35.78 37.75,33.20 34.90,31.90 C32.05,30.60 27.60,28.25 24.30,26.70 C21.00,25.15 16.85,24.12 15.10,22.60 C13.35,21.08 13.13,19.50 13.80,17.60Z" fill="#2a7030"/>
<path d="M36.20,6.00 C36.42,4.38 39.43,2.50 41.40,1.50 C43.37,0.50 45.37,-0.02 48.00,0.00 C50.63,0.02 54.57,0.58 57.20,1.60 C59.83,2.62 62.37,3.42 63.80,6.10 C65.23,8.78 65.37,13.62 65.80,17.70 C66.23,21.78 66.52,26.93 66.40,30.60 C66.28,34.27 66.40,38.62 65.10,39.70 C63.80,40.78 60.78,38.18 58.60,37.10 C56.42,36.02 54.42,34.93 52.00,33.20 C49.58,31.47 46.08,30.37 44.10,26.70 C42.12,23.03 41.42,14.65 40.10,11.20 C38.78,7.75 35.98,7.62 36.20,6.00Z" fill="#5c42b0"/>
<path d="M41.40,26.70 C43.82,26.48 48.70,31.03 52.00,33.20 C55.30,35.37 59.02,37.77 61.20,39.70 C63.38,41.63 64.45,42.22 65.10,44.80 C65.75,47.38 65.75,52.62 65.10,55.20 C64.45,57.78 63.38,59.02 61.20,60.30 C59.02,61.58 54.63,63.53 52.00,62.90 C49.37,62.27 47.38,59.52 45.40,56.50 C43.42,53.48 41.42,48.47 40.10,44.80 C38.78,41.13 37.28,37.52 37.50,34.50 C37.72,31.48 38.98,26.92 41.40,26.70Z" fill="#4cb04e"/>
<path d="M63.80,6.10 C65.55,4.60 73.00,7.20 76.30,8.70 C79.60,10.20 81.95,12.52 83.60,15.10 C85.25,17.68 85.98,21.18 86.20,24.20 C86.42,27.22 86.88,31.48 84.90,33.20 C82.92,34.92 77.38,34.72 74.30,34.50 C71.22,34.28 67.82,34.70 66.40,31.90 C64.98,29.10 66.23,22.00 65.80,17.70 C65.37,13.40 62.05,7.60 63.80,6.10Z" fill="#c0b040"/>
<path d="M69.10,31.90 C71.50,30.38 79.13,29.73 82.20,30.60 C85.27,31.47 87.05,34.95 87.50,37.10 C87.95,39.25 87.10,42.22 84.90,43.50 C82.70,44.78 77.15,45.43 74.30,44.80 C71.45,44.17 68.67,41.85 67.80,39.70 C66.93,37.55 66.70,33.42 69.10,31.90Z" fill="#f09a38"/>
<path d="M87.50,35.80 C88.60,34.52 93.65,36.02 95.40,37.10 C97.15,38.18 98.00,40.57 98.00,42.30 C98.00,44.03 96.93,47.08 95.40,47.50 C93.87,47.92 90.12,46.75 88.80,44.80 C87.48,42.85 86.40,37.08 87.50,35.80Z" fill="#80b8e0"/>
<path d="M66.40,44.80 C68.38,42.63 73.48,44.37 77.00,44.80 C80.52,45.23 84.43,45.88 87.50,47.40 C90.57,48.92 94.08,51.32 95.40,53.90 C96.72,56.48 96.28,60.10 95.40,62.90 C94.52,65.70 92.73,69.18 90.10,70.70 C87.47,72.22 82.88,72.20 79.60,72.00 C76.32,71.80 72.82,71.87 70.40,69.50 C67.98,67.13 65.77,61.92 65.10,57.80 C64.43,53.68 64.42,46.97 66.40,44.80Z" fill="#c4a0cc"/>
<path d="M61.20,54.30 C62.73,53.00 66.68,54.08 69.10,55.60 C71.52,57.12 74.60,60.37 75.70,63.40 C76.80,66.43 76.80,71.63 75.70,73.80 C74.60,75.97 71.30,76.83 69.10,76.40 C66.90,75.97 64.03,73.37 62.50,71.20 C60.97,69.03 60.12,66.22 59.90,63.40 C59.68,60.58 59.67,55.60 61.20,54.30Z" fill="#5034a0"/>
<path d="M91.40,62.90 C92.72,61.18 96.57,63.35 98.00,65.50 C99.43,67.65 100.00,72.35 100.00,75.80 C100.00,79.25 99.20,84.03 98.00,86.20 C96.80,88.37 94.12,90.53 92.80,88.80 C91.48,87.07 90.33,80.12 90.10,75.80 C89.87,71.48 90.08,64.62 91.40,62.90Z" fill="#d8cc30"/>
<path d="M67.10,72.00 C69.45,70.07 76.35,70.70 80.30,70.70 C84.25,70.70 88.62,70.07 90.80,72.00 C92.98,73.93 93.18,78.63 93.40,82.30 C93.62,85.97 93.73,91.05 92.10,94.00 C90.47,96.95 86.57,99.37 83.60,100.00 C80.63,100.63 76.83,99.25 74.30,97.80 C71.77,96.35 69.75,93.88 68.40,91.30 C67.05,88.72 66.42,85.52 66.20,82.30 C65.98,79.08 64.75,73.93 67.10,72.00Z" fill="#68c498"/>
</g>
<rect x="-5" y="-5" width="110" height="110" filter="url(#spkc)"/>
</g></g>
<g transform="translate(383.3,191.3) scale(0.78,0.8)">
<path d="M36.00,78.00 C37.67,75.50 45.33,72.67 50.00,70.00 C54.67,67.33 61.17,62.00 64.00,62.00 C66.83,62.00 69.00,67.17 67.00,70.00 C65.00,72.83 56.50,76.50 52.00,79.00 C47.50,81.50 42.67,85.17 40.00,85.00 C37.33,84.83 34.33,80.50 36.00,78.00Z" fill="#8a5a7a" fill-opacity="0.7" filter="url(#fc)"/>
<g mask="url(#mUc)">
<use href="#ushapec" fill="#ece4ea"/>
<g filter="url(#fc)">
<path d="M0.00,35.00 C1.00,29.50 2.50,29.33 5.00,27.00 C7.50,24.67 11.67,22.17 15.00,21.00 C18.33,19.83 22.00,19.83 25.00,20.00 C28.00,20.17 30.50,19.67 33.00,22.00 C35.50,24.33 38.17,29.33 40.00,34.00 C41.83,38.67 43.67,45.00 44.00,50.00 C44.33,55.00 44.00,59.67 42.00,64.00 C40.00,68.33 35.50,72.00 32.00,76.00 C28.50,80.00 24.50,84.50 21.00,88.00 C17.50,91.50 13.67,95.83 11.00,97.00 C8.33,98.17 6.83,97.00 5.00,95.00 C3.17,93.00 1.00,90.83 0.00,85.00 C-1.00,79.17 -1.00,68.33 -1.00,60.00 C-1.00,51.67 -1.00,40.50 0.00,35.00Z" fill="#e03c3c"/>
<path d="M8.00,18.00 C9.33,15.33 15.50,10.33 20.00,8.00 C24.50,5.67 31.33,3.67 35.00,4.00 C38.67,4.33 41.83,7.33 42.00,10.00 C42.17,12.67 39.33,18.33 36.00,20.00 C32.67,21.67 26.00,19.33 22.00,20.00 C18.00,20.67 14.33,24.33 12.00,24.00 C9.67,23.67 6.67,20.67 8.00,18.00Z" fill="#e6d2d2"/>
<path d="M34.00,16.00 C34.33,13.33 39.33,8.67 42.00,8.00 C44.67,7.33 48.67,9.67 50.00,12.00 C51.33,14.33 51.67,20.00 50.00,22.00 C48.33,24.00 42.67,25.00 40.00,24.00 C37.33,23.00 33.67,18.67 34.00,16.00Z" fill="#90bc80"/>
<path d="M37.00,2.00 C38.00,-0.33 44.50,0.00 48.00,0.00 C51.50,0.00 55.00,0.67 58.00,2.00 C61.00,3.33 64.67,5.00 66.00,8.00 C67.33,11.00 67.00,17.33 66.00,20.00 C65.00,22.67 62.67,23.67 60.00,24.00 C57.33,24.33 53.00,23.67 50.00,22.00 C47.00,20.33 44.17,17.33 42.00,14.00 C39.83,10.67 36.00,4.33 37.00,2.00Z" fill="#8a7ac8"/>
<path d="M36.00,24.00 C36.83,20.67 41.33,20.67 45.00,20.00 C48.67,19.33 54.50,19.33 58.00,20.00 C61.50,20.67 64.00,21.50 66.00,24.00 C68.00,26.50 69.67,30.67 70.00,35.00 C70.33,39.33 69.67,45.83 68.00,50.00 C66.33,54.17 63.00,58.00 60.00,60.00 C57.00,62.00 52.67,62.83 50.00,62.00 C47.33,61.17 45.67,58.67 44.00,55.00 C42.33,51.33 41.33,45.17 40.00,40.00 C38.67,34.83 35.17,27.33 36.00,24.00Z" fill="#5ab052"/>
<path d="M62.00,8.00 C63.50,5.33 71.33,7.83 75.00,9.00 C78.67,10.17 81.83,12.33 84.00,15.00 C86.17,17.67 87.50,21.67 88.00,25.00 C88.50,28.33 88.33,32.50 87.00,35.00 C85.67,37.50 82.83,39.17 80.00,40.00 C77.17,40.83 72.33,42.50 70.00,40.00 C67.67,37.50 67.33,30.33 66.00,25.00 C64.67,19.67 60.50,10.67 62.00,8.00Z" fill="#a8a850"/>
<path d="M72.00,28.00 C74.33,26.33 81.00,26.33 84.00,28.00 C87.00,29.67 89.67,35.33 90.00,38.00 C90.33,40.67 88.33,43.00 86.00,44.00 C83.67,45.00 78.67,45.00 76.00,44.00 C73.33,43.00 70.67,40.67 70.00,38.00 C69.33,35.33 69.67,29.67 72.00,28.00Z" fill="#f09040"/>
<ellipse cx="94" cy="38" rx="4" ry="7" fill="#3a88d0"/>
<path d="M86.00,40.00 C87.00,38.67 92.50,40.33 94.00,42.00 C95.50,43.67 96.00,48.67 95.00,50.00 C94.00,51.33 89.50,51.67 88.00,50.00 C86.50,48.33 85.00,41.33 86.00,40.00Z" fill="#b0d8ec"/>
<path d="M61.00,46.00 C64.17,42.33 74.33,43.33 80.00,44.00 C85.67,44.67 91.67,45.67 95.00,50.00 C98.33,54.33 99.50,63.33 100.00,70.00 C100.50,76.67 100.50,85.00 98.00,90.00 C95.50,95.00 89.33,98.83 85.00,100.00 C80.67,101.17 75.50,99.50 72.00,97.00 C68.50,94.50 65.83,90.17 64.00,85.00 C62.17,79.83 61.50,72.50 61.00,66.00 C60.50,59.50 57.83,49.67 61.00,46.00Z" fill="#ece8f2"/>
</g>
<rect x="-5" y="-5" width="110" height="110" filter="url(#spkc)"/>
</g></g>
<g transform="translate(33.24,336.6) scale(0.472,0.468)">
<path d="M40.00,68.00 C42.33,65.33 46.50,64.67 50.00,64.00 C53.50,63.33 58.50,61.33 61.00,64.00 C63.50,66.67 64.50,76.00 65.00,80.00 C65.50,84.00 65.67,87.33 64.00,88.00 C62.33,88.67 58.17,85.33 55.00,84.00 C51.83,82.67 48.17,80.67 45.00,80.00 C41.83,79.33 36.83,82.00 36.00,80.00 C35.17,78.00 37.67,70.67 40.00,68.00Z" fill="#a0b8e0" fill-opacity="0.6" filter="url(#fn)"/>
<g mask="url(#mU)">
<use href="#ushape" fill="#3044aa"/>
<g filter="url(#fb)">
<path d="M-10.00,38.00 C-14.17,35.33 -8.33,25.50 -5.00,20.00 C-1.67,14.50 4.17,9.17 10.00,5.00 C15.83,0.83 23.83,-2.50 30.00,-5.00 C36.17,-7.50 43.33,-12.50 47.00,-10.00 C50.67,-7.50 51.50,3.33 52.00,10.00 C52.50,16.67 52.00,25.67 50.00,30.00 C48.00,34.33 45.00,35.00 40.00,36.00 C35.00,37.00 28.33,35.67 20.00,36.00 C11.67,36.33 -5.83,40.67 -10.00,38.00Z" fill="#40a8b0"/>
<path d="M5.00,22.00 C6.33,18.17 14.17,9.50 20.00,5.00 C25.83,0.50 35.00,-5.00 40.00,-5.00 C45.00,-5.00 48.67,0.50 50.00,5.00 C51.33,9.50 51.33,18.50 48.00,22.00 C44.67,25.50 36.00,25.00 30.00,26.00 C24.00,27.00 16.17,28.67 12.00,28.00 C7.83,27.33 3.67,25.83 5.00,22.00Z" fill="#88c060"/>
<ellipse cx="42" cy="12" rx="8" ry="10" fill="#b8c050"/>
<path d="M58.00,44.00 C60.83,38.17 66.33,40.33 75.00,40.00 C83.67,39.67 104.17,30.33 110.00,42.00 C115.83,53.67 118.33,98.67 110.00,110.00 C101.67,121.33 68.67,115.83 60.00,110.00 C51.33,104.17 58.33,86.00 58.00,75.00 C57.67,64.00 55.17,49.83 58.00,44.00Z" fill="#d8a030"/>
<path d="M44.00,-10.00 C44.00,-16.00 51.67,-15.33 56.00,-10.00 C60.33,-4.67 66.33,13.00 70.00,22.00 C73.67,31.00 78.67,39.33 78.00,44.00 C77.33,48.67 69.67,53.00 66.00,50.00 C62.33,47.00 59.67,36.00 56.00,26.00 C52.33,16.00 44.00,-4.00 44.00,-10.00Z" fill="#d89a30"/>
<path d="M62.00,-10.00 C64.50,-12.00 77.83,-5.00 85.00,0.00 C92.17,5.00 100.83,12.00 105.00,20.00 C109.17,28.00 112.50,43.33 110.00,48.00 C107.50,52.67 94.67,50.00 90.00,48.00 C85.33,46.00 85.33,42.00 82.00,36.00 C78.67,30.00 73.33,19.67 70.00,12.00 C66.67,4.33 59.50,-8.00 62.00,-10.00Z" fill="#3a78c2"/>
<ellipse cx="80" cy="70" rx="7" ry="8" fill="#a8b040"/>
<ellipse cx="96" cy="93" rx="7" ry="7" fill="#c84020"/>
<ellipse cx="30" cy="62" rx="20" ry="18" fill="#2a3296"/>
<ellipse cx="2" cy="80" rx="5" ry="12" fill="#3a5ab8"/>
</g>
<rect x="-5" y="-5" width="110" height="110" filter="url(#spk)"/>
</g></g>
<g transform="translate(33.24,385.2) scale(0.472,0.468)">
<path d="M40.00,68.00 C42.33,65.33 46.50,64.67 50.00,64.00 C53.50,63.33 58.50,61.33 61.00,64.00 C63.50,66.67 64.50,76.00 65.00,80.00 C65.50,84.00 65.67,87.33 64.00,88.00 C62.33,88.67 58.17,85.33 55.00,84.00 C51.83,82.67 48.17,80.67 45.00,80.00 C41.83,79.33 36.83,82.00 36.00,80.00 C35.17,78.00 37.67,70.67 40.00,68.00Z" fill="#4060b0" fill-opacity="0.45" filter="url(#fn)"/>
<g mask="url(#mU)">
<use href="#ushape" fill="#2c38a8"/>
<g filter="url(#fb)">
<path d="M-10.00,38.00 C-14.17,35.33 -8.33,25.50 -5.00,20.00 C-1.67,14.50 4.17,9.17 10.00,5.00 C15.83,0.83 23.83,-2.50 30.00,-5.00 C36.17,-7.50 43.33,-12.50 47.00,-10.00 C50.67,-7.50 51.50,3.33 52.00,10.00 C52.50,16.67 52.00,25.67 50.00,30.00 C48.00,34.33 45.00,35.00 40.00,36.00 C35.00,37.00 28.33,35.67 20.00,36.00 C11.67,36.33 -5.83,40.67 -10.00,38.00Z" fill="#dceae8"/>
<ellipse cx="55" cy="12" rx="10" ry="16" fill="#e0dab0"/>
<ellipse cx="28" cy="40" rx="26" ry="6" fill="#70b0d0"/>
<path d="M56.00,-10.00 C59.00,-14.17 71.83,-5.00 80.00,0.00 C88.17,5.00 100.00,11.67 105.00,20.00 C110.00,28.33 112.83,45.00 110.00,50.00 C107.17,55.00 94.33,51.00 88.00,50.00 C81.67,49.00 76.33,48.17 72.00,44.00 C67.67,39.83 64.67,34.00 62.00,25.00 C59.33,16.00 53.00,-5.83 56.00,-10.00Z" fill="#3a70c0"/>
<path d="M58.00,44.00 C60.83,38.17 66.33,40.33 75.00,40.00 C83.67,39.67 104.17,30.33 110.00,42.00 C115.83,53.67 118.33,98.67 110.00,110.00 C101.67,121.33 68.67,115.83 60.00,110.00 C51.33,104.17 58.33,86.00 58.00,75.00 C57.67,64.00 55.17,49.83 58.00,44.00Z" fill="#ece4d4"/>
<ellipse cx="2" cy="80" rx="6" ry="12" fill="#3a58c0"/>
</g>
<rect x="-5" y="-5" width="110" height="110" filter="url(#spk)"/>
</g></g>
<g transform="translate(84.49,336.6) scale(0.472,0.468)">
<path d="M40.00,68.00 C42.33,65.33 46.50,64.67 50.00,64.00 C53.50,63.33 58.50,61.33 61.00,64.00 C63.50,66.67 64.50,76.00 65.00,80.00 C65.50,84.00 65.67,87.33 64.00,88.00 C62.33,88.67 58.17,85.33 55.00,84.00 C51.83,82.67 48.17,80.67 45.00,80.00 C41.83,79.33 36.83,82.00 36.00,80.00 C35.17,78.00 37.67,70.67 40.00,68.00Z" fill="#a0b8e0" fill-opacity="0.5" filter="url(#fn)"/>
<g mask="url(#mU)">
<use href="#ushape" fill="#3262c0"/>
<g filter="url(#fb)">
<path d="M-10.00,30.00 C-10.83,27.17 -9.17,20.00 -5.00,15.00 C-0.83,10.00 8.33,3.83 15.00,0.00 C21.67,-3.83 29.17,-6.33 35.00,-8.00 C40.83,-9.67 45.83,-10.50 50.00,-10.00 C54.17,-9.50 58.00,-10.00 60.00,-5.00 C62.00,0.00 63.67,14.83 62.00,20.00 C60.33,25.17 57.00,24.67 50.00,26.00 C43.00,27.33 28.33,27.00 20.00,28.00 C11.67,29.00 5.00,31.67 0.00,32.00 C-5.00,32.33 -9.17,32.83 -10.00,30.00Z" fill="#40a8a8"/>
<path d="M5.00,22.00 C4.17,18.50 10.00,9.50 15.00,5.00 C20.00,0.50 29.17,-2.50 35.00,-5.00 C40.83,-7.50 45.83,-10.00 50.00,-10.00 C54.17,-10.00 58.33,-10.00 60.00,-5.00 C61.67,0.00 60.83,15.00 60.00,20.00 C59.17,25.00 58.33,24.17 55.00,25.00 C51.67,25.83 45.83,24.83 40.00,25.00 C34.17,25.17 25.83,26.50 20.00,26.00 C14.17,25.50 5.83,25.50 5.00,22.00Z" fill="#d85020"/>
<ellipse cx="56" cy="12" rx="6" ry="14" fill="#e08030"/>
<path d="M56.00,-10.00 C59.00,-14.17 71.83,-5.00 80.00,0.00 C88.17,5.00 100.00,11.67 105.00,20.00 C110.00,28.33 112.83,45.00 110.00,50.00 C107.17,55.00 94.33,51.00 88.00,50.00 C81.67,49.00 76.33,48.17 72.00,44.00 C67.67,39.83 64.67,34.00 62.00,25.00 C59.33,16.00 53.00,-5.83 56.00,-10.00Z" fill="#2e48b0"/>
<path d="M60.00,48.00 C63.00,43.33 71.67,42.50 80.00,42.00 C88.33,41.50 105.00,39.00 110.00,45.00 C115.00,51.00 113.33,71.83 110.00,78.00 C106.67,84.17 95.83,81.33 90.00,82.00 C84.17,82.67 79.67,84.00 75.00,82.00 C70.33,80.00 64.50,75.67 62.00,70.00 C59.50,64.33 57.00,52.67 60.00,48.00Z" fill="#78b850"/>
<ellipse cx="82" cy="86" rx="14" ry="6" fill="#d0a030"/>
<ellipse cx="82" cy="98" rx="10" ry="6" fill="#d04020"/>
</g>
<rect x="-5" y="-5" width="110" height="110" filter="url(#spk)"/>
</g></g>
<g transform="translate(84.49,385.2) scale(0.472,0.468)">
<path d="M40.00,68.00 C42.33,65.33 46.50,64.67 50.00,64.00 C53.50,63.33 58.50,61.33 61.00,64.00 C63.50,66.67 64.50,76.00 65.00,80.00 C65.50,84.00 65.67,87.33 64.00,88.00 C62.33,88.67 58.17,85.33 55.00,84.00 C51.83,82.67 48.17,80.67 45.00,80.00 C41.83,79.33 36.83,82.00 36.00,80.00 C35.17,78.00 37.67,70.67 40.00,68.00Z" fill="#4060b0" fill-opacity="0.45" filter="url(#fn)"/>
<g mask="url(#mU)">
<use href="#ushape" fill="#2c34a4"/>
<g filter="url(#fb)">
<path d="M-10.00,40.00 C-11.67,37.67 -5.00,32.33 0.00,30.00 C5.00,27.67 10.83,27.00 20.00,26.00 C29.17,25.00 48.00,23.00 55.00,24.00 C62.00,25.00 64.50,29.00 62.00,32.00 C59.50,35.00 48.67,40.00 40.00,42.00 C31.33,44.00 18.33,44.33 10.00,44.00 C1.67,43.67 -8.33,42.33 -10.00,40.00Z" fill="#78b0d8"/>
<path d="M-10.00,30.00 C-10.83,27.17 -9.17,20.00 -5.00,15.00 C-0.83,10.00 8.33,3.83 15.00,0.00 C21.67,-3.83 29.17,-6.33 35.00,-8.00 C40.83,-9.67 45.83,-10.50 50.00,-10.00 C54.17,-9.50 58.00,-10.00 60.00,-5.00 C62.00,0.00 63.67,14.83 62.00,20.00 C60.33,25.17 57.00,24.67 50.00,26.00 C43.00,27.33 28.33,27.00 20.00,28.00 C11.67,29.00 5.00,31.67 0.00,32.00 C-5.00,32.33 -9.17,32.83 -10.00,30.00Z" fill="#ede4d6"/>
<ellipse cx="50" cy="15" rx="8" ry="8" fill="#d8d0a8"/>
<path d="M58.00,44.00 C60.83,38.17 66.33,40.33 75.00,40.00 C83.67,39.67 104.17,30.33 110.00,42.00 C115.83,53.67 118.33,98.67 110.00,110.00 C101.67,121.33 68.67,115.83 60.00,110.00 C51.33,104.17 58.33,86.00 58.00,75.00 C57.67,64.00 55.17,49.83 58.00,44.00Z" fill="#e2e2ee"/>
</g>
<rect x="-5" y="-5" width="110" height="110" filter="url(#spk)"/>
</g></g>
<g transform="translate(135.74,336.6) scale(0.472,0.468)">
<path d="M40.00,68.00 C42.33,65.33 46.50,64.67 50.00,64.00 C53.50,63.33 58.50,61.33 61.00,64.00 C63.50,66.67 64.50,76.00 65.00,80.00 C65.50,84.00 65.67,87.33 64.00,88.00 C62.33,88.67 58.17,85.33 55.00,84.00 C51.83,82.67 48.17,80.67 45.00,80.00 C41.83,79.33 36.83,82.00 36.00,80.00 C35.17,78.00 37.67,70.67 40.00,68.00Z" fill="#a0c0e0" fill-opacity="0.5" filter="url(#fn)"/>
<g mask="url(#mU)">
<use href="#ushape" fill="#3464b8"/>
<g filter="url(#fb)">
<ellipse cx="22" cy="66" rx="24" ry="30" fill="#3a3ca6"/>
<path d="M-10.00,30.00 C-11.67,26.67 2.50,13.83 10.00,8.00 C17.50,2.17 27.50,-2.00 35.00,-5.00 C42.50,-8.00 50.83,-12.50 55.00,-10.00 C59.17,-7.50 61.67,5.00 60.00,10.00 C58.33,15.00 51.67,17.00 45.00,20.00 C38.33,23.00 29.17,26.33 20.00,28.00 C10.83,29.67 -8.33,33.33 -10.00,30.00Z" fill="#3a7cc0"/>
<ellipse cx="20" cy="20" rx="6" ry="6" fill="#40a0b0"/>
<ellipse cx="50" cy="4" rx="6" ry="5" fill="#3a98b8"/>
<ellipse cx="85" cy="32" rx="10" ry="12" fill="#4a9cb8"/>
<path d="M60.00,50.00 C63.83,44.17 76.67,45.00 85.00,45.00 C93.33,45.00 105.83,39.17 110.00,50.00 C114.17,60.83 118.33,100.00 110.00,110.00 C101.67,120.00 68.00,115.00 60.00,110.00 C52.00,105.00 62.00,90.00 62.00,80.00 C62.00,70.00 56.17,55.83 60.00,50.00Z" fill="#3a9cb8"/>
<ellipse cx="99" cy="72" rx="5" ry="9" fill="#c07030"/>
<ellipse cx="90" cy="44" rx="3" ry="3" fill="#c06040"/>
</g>
<rect x="-5" y="-5" width="110" height="110" filter="url(#spk)"/>
</g></g>
<g transform="translate(135.74,385.2) scale(0.472,0.468)">
<path d="M40.00,68.00 C42.33,65.33 46.50,64.67 50.00,64.00 C53.50,63.33 58.50,61.33 61.00,64.00 C63.50,66.67 64.50,76.00 65.00,80.00 C65.50,84.00 65.67,87.33 64.00,88.00 C62.33,88.67 58.17,85.33 55.00,84.00 C51.83,82.67 48.17,80.67 45.00,80.00 C41.83,79.33 36.83,82.00 36.00,80.00 C35.17,78.00 37.67,70.67 40.00,68.00Z" fill="#3050a8" fill-opacity="0.45" filter="url(#fn)"/>
<g mask="url(#mU)">
<use href="#ushape" fill="#3454b8"/>
<g filter="url(#fb)">
<ellipse cx="3" cy="65" rx="12" ry="32" fill="#2a2898"/>
<path d="M-10.00,40.00 C-11.67,37.00 -8.33,25.83 -5.00,20.00 C-1.67,14.17 4.17,9.17 10.00,5.00 C15.83,0.83 24.17,-2.50 30.00,-5.00 C35.83,-7.50 42.17,-12.50 45.00,-10.00 C47.83,-7.50 47.00,4.33 47.00,10.00 C47.00,15.67 47.83,20.33 45.00,24.00 C42.17,27.67 36.67,29.67 30.00,32.00 C23.33,34.33 11.67,36.67 5.00,38.00 C-1.67,39.33 -8.33,43.00 -10.00,40.00Z" fill="#d4e0f0"/>
<path d="M45.00,-10.00 C47.83,-15.83 58.33,-7.50 65.00,-5.00 C71.67,-2.50 78.33,-0.83 85.00,5.00 C91.67,10.83 103.33,23.83 105.00,30.00 C106.67,36.17 100.83,40.33 95.00,42.00 C89.17,43.67 77.83,42.00 70.00,40.00 C62.17,38.00 52.17,38.33 48.00,30.00 C43.83,21.67 42.17,-4.17 45.00,-10.00Z" fill="#3a7cc0"/>
<ellipse cx="30" cy="80" rx="10" ry="6" fill="#4098c0"/>
<path d="M58.00,44.00 C60.83,38.17 66.33,40.33 75.00,40.00 C83.67,39.67 104.17,30.33 110.00,42.00 C115.83,53.67 118.33,98.67 110.00,110.00 C101.67,121.33 68.67,115.83 60.00,110.00 C51.33,104.17 58.33,86.00 58.00,75.00 C57.67,64.00 55.17,49.83 58.00,44.00Z" fill="#e2ecf2"/>
</g>
<rect x="-5" y="-5" width="110" height="110" filter="url(#spk)"/>
</g></g>
<g transform="translate(186.99,336.6) scale(0.472,0.468)">
<path d="M40.00,68.00 C42.33,65.33 46.50,64.67 50.00,64.00 C53.50,63.33 58.50,61.33 61.00,64.00 C63.50,66.67 64.50,76.00 65.00,80.00 C65.50,84.00 65.67,87.33 64.00,88.00 C62.33,88.67 58.17,85.33 55.00,84.00 C51.83,82.67 48.17,80.67 45.00,80.00 C41.83,79.33 36.83,82.00 36.00,80.00 C35.17,78.00 37.67,70.67 40.00,68.00Z" fill="#a0b8e0" fill-opacity="0.5" filter="url(#fn)"/>
<g mask="url(#mU)">
<use href="#ushape" fill="#2c2a94"/>
<g filter="url(#fb)">
<path d="M-10.00,70.00 C-3.33,65.00 18.33,62.67 30.00,58.00 C41.67,53.33 46.67,46.33 60.00,42.00 C73.33,37.67 101.67,31.67 110.00,32.00 C118.33,32.33 117.50,40.33 110.00,44.00 C102.50,47.67 77.50,49.67 65.00,54.00 C52.50,58.33 47.50,64.33 35.00,70.00 C22.50,75.67 -2.50,88.00 -10.00,88.00 C-17.50,88.00 -16.67,75.00 -10.00,70.00Z" fill="#30b0d0"/>
<path d="M-10.00,86.00 C-2.50,79.17 23.67,73.67 35.00,69.00 C46.33,64.33 53.50,58.83 58.00,58.00 C62.50,57.17 65.00,60.67 62.00,64.00 C59.00,67.33 47.00,73.33 40.00,78.00 C33.00,82.67 25.83,86.67 20.00,92.00 C14.17,97.33 10.00,107.00 5.00,110.00 C0.00,113.00 -7.50,114.00 -10.00,110.00 C-12.50,106.00 -17.50,92.83 -10.00,86.00Z" fill="#b0d440"/>
<ellipse cx="8" cy="96" rx="10" ry="6" fill="#e0e070"/>
<path d="M60.00,56.00 C62.00,51.67 69.33,51.67 72.00,54.00 C74.67,56.33 75.00,60.67 76.00,70.00 C77.00,79.33 80.67,103.33 78.00,110.00 C75.33,116.67 63.00,115.00 60.00,110.00 C57.00,105.00 60.00,89.00 60.00,80.00 C60.00,71.00 58.00,60.33 60.00,56.00Z" fill="#2242a4"/>
<path d="M74.00,44.00 C79.67,39.67 104.00,35.50 110.00,44.00 C116.00,52.50 115.00,87.00 110.00,95.00 C105.00,103.00 85.67,96.17 80.00,92.00 C74.33,87.83 77.00,78.00 76.00,70.00 C75.00,62.00 68.33,48.33 74.00,44.00Z" fill="#a8c840"/>
<ellipse cx="97" cy="74" rx="7" ry="12" fill="#e88a20"/>
</g>
<rect x="-5" y="-5" width="110" height="110" filter="url(#spk)"/>
</g></g>
<g transform="translate(186.99,385.2) scale(0.472,0.468)">
<path d="M40.00,68.00 C42.33,65.33 46.50,64.67 50.00,64.00 C53.50,63.33 58.50,61.33 61.00,64.00 C63.50,66.67 64.50,76.00 65.00,80.00 C65.50,84.00 65.67,87.33 64.00,88.00 C62.33,88.67 58.17,85.33 55.00,84.00 C51.83,82.67 48.17,80.67 45.00,80.00 C41.83,79.33 36.83,82.00 36.00,80.00 C35.17,78.00 37.67,70.67 40.00,68.00Z" fill="#3050a8" fill-opacity="0.4" filter="url(#fn)"/>
<g mask="url(#mU)">
<use href="#ushape" fill="#2c2494"/>
<g filter="url(#fb)">
<path d="M-10.00,30.00 C-10.83,27.50 -4.17,19.67 0.00,15.00 C4.17,10.33 9.17,5.83 15.00,2.00 C20.83,-1.83 29.50,-6.83 35.00,-8.00 C40.50,-9.17 47.17,-8.33 48.00,-5.00 C48.83,-1.67 43.83,7.50 40.00,12.00 C36.17,16.50 30.83,19.00 25.00,22.00 C19.17,25.00 10.83,28.67 5.00,30.00 C-0.83,31.33 -9.17,32.50 -10.00,30.00Z" fill="#d0cce8"/>
<path d="M-10.00,76.00 C-3.33,71.00 18.33,67.00 30.00,62.00 C41.67,57.00 50.00,50.33 60.00,46.00 C70.00,41.67 81.67,38.33 90.00,36.00 C98.33,33.67 106.67,31.00 110.00,32.00 C113.33,33.00 116.67,38.33 110.00,42.00 C103.33,45.67 82.50,49.00 70.00,54.00 C57.50,59.00 48.33,65.67 35.00,72.00 C21.67,78.33 -2.50,91.33 -10.00,92.00 C-17.50,92.67 -16.67,81.00 -10.00,76.00Z" fill="#30b0d0"/>
<path d="M-10.00,90.00 C-3.33,83.67 21.67,75.00 30.00,72.00 C38.33,69.00 41.67,68.67 40.00,72.00 C38.33,75.33 25.33,85.67 20.00,92.00 C14.67,98.33 13.00,107.00 8.00,110.00 C3.00,113.00 -7.00,113.33 -10.00,110.00 C-13.00,106.67 -16.67,96.33 -10.00,90.00Z" fill="#b8d840"/>
<path d="M58.00,44.00 C60.83,38.17 66.33,40.33 75.00,40.00 C83.67,39.67 104.17,30.33 110.00,42.00 C115.83,53.67 118.33,98.67 110.00,110.00 C101.67,121.33 68.67,115.83 60.00,110.00 C51.33,104.17 58.33,86.00 58.00,75.00 C57.67,64.00 55.17,49.83 58.00,44.00Z" fill="#e8eef0"/>
<ellipse cx="78" cy="44" rx="14" ry="6" fill="#a8d8c8"/>
</g>
<rect x="-5" y="-5" width="110" height="110" filter="url(#spk)"/>
</g></g>
<g transform="translate(238.24,336.6) scale(0.472,0.468)">
<path d="M40.00,68.00 C42.33,65.33 46.50,64.67 50.00,64.00 C53.50,63.33 58.50,61.33 61.00,64.00 C63.50,66.67 64.50,76.00 65.00,80.00 C65.50,84.00 65.67,87.33 64.00,88.00 C62.33,88.67 58.17,85.33 55.00,84.00 C51.83,82.67 48.17,80.67 45.00,80.00 C41.83,79.33 36.83,82.00 36.00,80.00 C35.17,78.00 37.67,70.67 40.00,68.00Z" fill="#a0c0e0" fill-opacity="0.5" filter="url(#fn)"/>
<g mask="url(#mU)">
<use href="#ushape" fill="#3458b8"/>
<g filter="url(#fb)">
<ellipse cx="35" cy="50" rx="25" ry="22" fill="#3038a0"/>
<ellipse cx="2" cy="60" rx="8" ry="28" fill="#4a80c8"/>
<ellipse cx="50" cy="4" rx="12" ry="6" fill="#3a88c0"/>
<path d="M60.00,44.00 C62.33,40.33 72.00,37.33 78.00,38.00 C84.00,38.67 93.00,44.33 96.00,48.00 C99.00,51.67 98.67,57.33 96.00,60.00 C93.33,62.67 85.33,64.00 80.00,64.00 C74.67,64.00 67.33,63.33 64.00,60.00 C60.67,56.67 57.67,47.67 60.00,44.00Z" fill="#78c050"/>
<ellipse cx="96" cy="70" rx="5" ry="10" fill="#a0c850"/>
<ellipse cx="78" cy="92" rx="14" ry="10" fill="#2830a0"/>
</g>
<rect x="-5" y="-5" width="110" height="110" filter="url(#spk)"/>
</g></g>
<g transform="translate(238.24,385.2) scale(0.472,0.468)">
<path d="M40.00,68.00 C42.33,65.33 46.50,64.67 50.00,64.00 C53.50,63.33 58.50,61.33 61.00,64.00 C63.50,66.67 64.50,76.00 65.00,80.00 C65.50,84.00 65.67,87.33 64.00,88.00 C62.33,88.67 58.17,85.33 55.00,84.00 C51.83,82.67 48.17,80.67 45.00,80.00 C41.83,79.33 36.83,82.00 36.00,80.00 C35.17,78.00 37.67,70.67 40.00,68.00Z" fill="#4080c0" fill-opacity="0.45" filter="url(#fn)"/>
<g mask="url(#mU)">
<use href="#ushape" fill="#3a5cbc"/>
<g filter="url(#fb)">
<path d="M-10.00,40.00 C-11.67,37.00 -8.33,25.83 -5.00,20.00 C-1.67,14.17 4.17,9.17 10.00,5.00 C15.83,0.83 24.17,-2.50 30.00,-5.00 C35.83,-7.50 42.17,-12.50 45.00,-10.00 C47.83,-7.50 47.00,4.33 47.00,10.00 C47.00,15.67 47.83,20.33 45.00,24.00 C42.17,27.67 36.67,29.67 30.00,32.00 C23.33,34.33 11.67,36.67 5.00,38.00 C-1.67,39.33 -8.33,43.00 -10.00,40.00Z" fill="#8aa0d4"/>
<ellipse cx="1" cy="65" rx="8" ry="25" fill="#4884c8"/>
<path d="M58.00,44.00 C60.83,38.17 66.33,40.33 75.00,40.00 C83.67,39.67 104.17,30.33 110.00,42.00 C115.83,53.67 118.33,98.67 110.00,110.00 C101.67,121.33 68.67,115.83 60.00,110.00 C51.33,104.17 58.33,86.00 58.00,75.00 C57.67,64.00 55.17,49.83 58.00,44.00Z" fill="#e0e8f0"/>
</g>
<rect x="-5" y="-5" width="110" height="110" filter="url(#spk)"/>
</g></g>
<g transform="translate(289.49,336.6) scale(0.472,0.468)">
<path d="M40.00,68.00 C42.33,65.33 46.50,64.67 50.00,64.00 C53.50,63.33 58.50,61.33 61.00,64.00 C63.50,66.67 64.50,76.00 65.00,80.00 C65.50,84.00 65.67,87.33 64.00,88.00 C62.33,88.67 58.17,85.33 55.00,84.00 C51.83,82.67 48.17,80.67 45.00,80.00 C41.83,79.33 36.83,82.00 36.00,80.00 C35.17,78.00 37.67,70.67 40.00,68.00Z" fill="#e4dcc4" fill-opacity="0.5" filter="url(#fn)"/>
<g mask="url(#mU)">
<use href="#ushape" fill="#92c488"/>
<g filter="url(#fb)">
<ellipse cx="25" cy="18" rx="15" ry="10" fill="#d89050"/>
<ellipse cx="20" cy="17" rx="8" ry="6" fill="#b04030"/>
<ellipse cx="0" cy="72" rx="6" ry="28" fill="#d8a870"/>
<ellipse cx="5" cy="92" rx="10" ry="12" fill="#d89858"/>
<ellipse cx="30" cy="45" rx="22" ry="18" fill="#a0c878"/>
<ellipse cx="45" cy="72" rx="10" ry="6" fill="#e0dcc0"/>
<ellipse cx="78" cy="18" rx="12" ry="10" fill="#80bca8"/>
<ellipse cx="84" cy="45" rx="14" ry="12" fill="#60b0c8"/>
<path d="M72.00,58.00 C75.33,52.50 83.67,51.67 90.00,52.00 C96.33,52.33 106.67,50.33 110.00,60.00 C113.33,69.67 116.33,101.67 110.00,110.00 C103.67,118.33 78.67,114.17 72.00,110.00 C65.33,105.83 70.00,93.67 70.00,85.00 C70.00,76.33 68.67,63.50 72.00,58.00Z" fill="#3a8ccc"/>
</g>
<rect x="-5" y="-5" width="110" height="110" filter="url(#spk)"/>
</g></g>
<g transform="translate(289.49,385.2) scale(0.472,0.468)">
<path d="M40.00,68.00 C42.33,65.33 46.50,64.67 50.00,64.00 C53.50,63.33 58.50,61.33 61.00,64.00 C63.50,66.67 64.50,76.00 65.00,80.00 C65.50,84.00 65.67,87.33 64.00,88.00 C62.33,88.67 58.17,85.33 55.00,84.00 C51.83,82.67 48.17,80.67 45.00,80.00 C41.83,79.33 36.83,82.00 36.00,80.00 C35.17,78.00 37.67,70.67 40.00,68.00Z" fill="#d0dcc0" fill-opacity="0.5" filter="url(#fn)"/>
<g mask="url(#mU)">
<use href="#ushape" fill="#78c080"/>
<g filter="url(#fb)">
<path d="M-10.00,30.00 C-12.17,28.50 -8.33,19.67 -5.00,15.00 C-1.67,10.33 4.17,5.83 10.00,2.00 C15.83,-1.83 23.33,-6.00 30.00,-8.00 C36.67,-10.00 47.50,-12.67 50.00,-10.00 C52.50,-7.33 49.17,4.00 45.00,8.00 C40.83,12.00 31.17,11.33 25.00,14.00 C18.83,16.67 13.83,21.33 8.00,24.00 C2.17,26.67 -7.83,31.50 -10.00,30.00Z" fill="#e8c0a0"/>
<ellipse cx="40" cy="50" rx="16" ry="12" fill="#70b8a8"/>
<ellipse cx="0" cy="75" rx="5" ry="26" fill="#d85020"/>
<path d="M56.00,-10.00 C59.00,-14.17 71.83,-5.00 80.00,0.00 C88.17,5.00 100.00,11.67 105.00,20.00 C110.00,28.33 112.83,45.00 110.00,50.00 C107.17,55.00 94.33,51.00 88.00,50.00 C81.67,49.00 76.33,48.17 72.00,44.00 C67.67,39.83 64.67,34.00 62.00,25.00 C59.33,16.00 53.00,-5.83 56.00,-10.00Z" fill="#48aca8"/>
<ellipse cx="92" cy="38" rx="5" ry="4" fill="#a08060"/>
<path d="M58.00,44.00 C60.83,38.17 66.33,40.33 75.00,40.00 C83.67,39.67 104.17,30.33 110.00,42.00 C115.83,53.67 118.33,98.67 110.00,110.00 C101.67,121.33 68.67,115.83 60.00,110.00 C51.33,104.17 58.33,86.00 58.00,75.00 C57.67,64.00 55.17,49.83 58.00,44.00Z" fill="#e2ece2"/>
<ellipse cx="35" cy="80" rx="12" ry="6" fill="#d8dcc0"/>
</g>
<rect x="-5" y="-5" width="110" height="110" filter="url(#spk)"/>
</g></g>
<g transform="translate(340.74,336.6) scale(0.472,0.468)">
<path d="M40.00,68.00 C42.33,65.33 46.50,64.67 50.00,64.00 C53.50,63.33 58.50,61.33 61.00,64.00 C63.50,66.67 64.50,76.00 65.00,80.00 C65.50,84.00 65.67,87.33 64.00,88.00 C62.33,88.67 58.17,85.33 55.00,84.00 C51.83,82.67 48.17,80.67 45.00,80.00 C41.83,79.33 36.83,82.00 36.00,80.00 C35.17,78.00 37.67,70.67 40.00,68.00Z" fill="#a0c0e0" fill-opacity="0.5" filter="url(#fn)"/>
<g mask="url(#mU)">
<use href="#ushape" fill="#3464c0"/>
<g filter="url(#fb)">
<path d="M-10.00,30.00 C-8.33,25.00 2.50,10.83 10.00,5.00 C17.50,-0.83 28.67,-2.50 35.00,-5.00 C41.33,-7.50 43.00,-10.00 48.00,-10.00 C53.00,-10.00 58.83,-8.33 65.00,-5.00 C71.17,-1.67 81.67,6.17 85.00,10.00 C88.33,13.83 89.17,17.33 85.00,18.00 C80.83,18.67 67.50,14.67 60.00,14.00 C52.50,13.33 46.67,12.33 40.00,14.00 C33.33,15.67 26.67,20.50 20.00,24.00 C13.33,27.50 5.00,34.00 0.00,35.00 C-5.00,36.00 -11.67,35.00 -10.00,30.00Z" fill="#40a0b0"/>
<ellipse cx="40" cy="50" rx="25" ry="20" fill="#2c44a8"/>
<ellipse cx="0" cy="70" rx="7" ry="28" fill="#48a8a8"/>
<ellipse cx="6" cy="92" rx="8" ry="8" fill="#80c060"/>
<ellipse cx="80" cy="55" rx="12" ry="10" fill="#40a0b8"/>
<ellipse cx="80" cy="90" rx="15" ry="12" fill="#2838a8"/>
<ellipse cx="92" cy="72" rx="6" ry="10" fill="#70b060"/>
<ellipse cx="99" cy="80" rx="5" ry="12" fill="#d86020"/>
</g>
<rect x="-5" y="-5" width="110" height="110" filter="url(#spk)"/>
</g></g>
<g transform="translate(340.74,385.2) scale(0.472,0.468)">
<path d="M40.00,68.00 C42.33,65.33 46.50,64.67 50.00,64.00 C53.50,63.33 58.50,61.33 61.00,64.00 C63.50,66.67 64.50,76.00 65.00,80.00 C65.50,84.00 65.67,87.33 64.00,88.00 C62.33,88.67 58.17,85.33 55.00,84.00 C51.83,82.67 48.17,80.67 45.00,80.00 C41.83,79.33 36.83,82.00 36.00,80.00 C35.17,78.00 37.67,70.67 40.00,68.00Z" fill="#4060b0" fill-opacity="0.45" filter="url(#fn)"/>
<g mask="url(#mU)">
<use href="#ushape" fill="#3a68c0"/>
<g filter="url(#fb)">
<path d="M-10.00,40.00 C-11.67,37.00 -8.33,25.83 -5.00,20.00 C-1.67,14.17 4.17,9.17 10.00,5.00 C15.83,0.83 24.17,-2.50 30.00,-5.00 C35.83,-7.50 42.17,-12.50 45.00,-10.00 C47.83,-7.50 47.00,4.33 47.00,10.00 C47.00,15.67 47.83,20.33 45.00,24.00 C42.17,27.67 36.67,29.67 30.00,32.00 C23.33,34.33 11.67,36.67 5.00,38.00 C-1.67,39.33 -8.33,43.00 -10.00,40.00Z" fill="#c4d4e6"/>
<path d="M56.00,-10.00 C59.00,-14.17 71.83,-5.00 80.00,0.00 C88.17,5.00 100.00,11.67 105.00,20.00 C110.00,28.33 112.83,45.00 110.00,50.00 C107.17,55.00 94.33,51.00 88.00,50.00 C81.67,49.00 76.33,48.17 72.00,44.00 C67.67,39.83 64.67,34.00 62.00,25.00 C59.33,16.00 53.00,-5.83 56.00,-10.00Z" fill="#2e4cb0"/>
<ellipse cx="0" cy="72" rx="7" ry="28" fill="#48a8a8"/>
<ellipse cx="3" cy="92" rx="6" ry="8" fill="#a0c048"/>
<path d="M58.00,44.00 C60.83,38.17 66.33,40.33 75.00,40.00 C83.67,39.67 104.17,30.33 110.00,42.00 C115.83,53.67 118.33,98.67 110.00,110.00 C101.67,121.33 68.67,115.83 60.00,110.00 C51.33,104.17 58.33,86.00 58.00,75.00 C57.67,64.00 55.17,49.83 58.00,44.00Z" fill="#e4e8ee"/>
</g>
<rect x="-5" y="-5" width="110" height="110" filter="url(#spk)"/>
</g></g>
<g transform="translate(391.99,336.6) scale(0.472,0.468)">
<path d="M40.00,68.00 C42.33,65.33 46.50,64.67 50.00,64.00 C53.50,63.33 58.50,61.33 61.00,64.00 C63.50,66.67 64.50,76.00 65.00,80.00 C65.50,84.00 65.67,87.33 64.00,88.00 C62.33,88.67 58.17,85.33 55.00,84.00 C51.83,82.67 48.17,80.67 45.00,80.00 C41.83,79.33 36.83,82.00 36.00,80.00 C35.17,78.00 37.67,70.67 40.00,68.00Z" fill="#e8ecb0" fill-opacity="0.5" filter="url(#fn)"/>
<g mask="url(#mU)">
<use href="#ushape" fill="#b8d050"/>
<g filter="url(#fb)">
<path d="M10.00,10.00 C12.50,6.50 23.67,-1.67 30.00,-5.00 C36.33,-8.33 43.00,-10.00 48.00,-10.00 C53.00,-10.00 58.83,-7.67 60.00,-5.00 C61.17,-2.33 59.17,3.50 55.00,6.00 C50.83,8.50 41.67,8.33 35.00,10.00 C28.33,11.67 19.17,16.00 15.00,16.00 C10.83,16.00 7.50,13.50 10.00,10.00Z" fill="#e8a030"/>
<ellipse cx="0" cy="65" rx="7" ry="32" fill="#e8b040"/>
<ellipse cx="55" cy="52" rx="22" ry="20" fill="#78c4a0"/>
<ellipse cx="74" cy="45" rx="12" ry="20" fill="#50b0c0"/>
<ellipse cx="15" cy="90" rx="12" ry="8" fill="#d8d860"/>
<ellipse cx="70" cy="80" rx="6" ry="18" fill="#40a0c0"/>
<path d="M86.00,28.00 C88.00,24.17 92.00,27.50 96.00,32.00 C100.00,36.50 107.67,42.00 110.00,55.00 C112.33,68.00 115.00,100.83 110.00,110.00 C105.00,119.17 85.33,114.17 80.00,110.00 C74.67,105.83 77.33,94.17 78.00,85.00 C78.67,75.83 82.67,64.50 84.00,55.00 C85.33,45.50 84.00,31.83 86.00,28.00Z" fill="#2a2090"/>
</g>
<rect x="-5" y="-5" width="110" height="110" filter="url(#spk)"/>
</g></g>
<g transform="translate(391.99,385.2) scale(0.472,0.468)">
<path d="M40.00,68.00 C42.33,65.33 46.50,64.67 50.00,64.00 C53.50,63.33 58.50,61.33 61.00,64.00 C63.50,66.67 64.50,76.00 65.00,80.00 C65.50,84.00 65.67,87.33 64.00,88.00 C62.33,88.67 58.17,85.33 55.00,84.00 C51.83,82.67 48.17,80.67 45.00,80.00 C41.83,79.33 36.83,82.00 36.00,80.00 C35.17,78.00 37.67,70.67 40.00,68.00Z" fill="#6070c0" fill-opacity="0.45" filter="url(#fn)"/>
<g mask="url(#mU)">
<use href="#ushape" fill="#b0d058"/>
<g filter="url(#fb)">
<ellipse cx="7" cy="68" rx="8" ry="36" fill="#e8d040"/>
<ellipse cx="0" cy="68" rx="6" ry="36" fill="#f09020"/>
<path d="M-10.00,40.00 C-11.67,37.00 -8.33,25.83 -5.00,20.00 C-1.67,14.17 4.17,9.17 10.00,5.00 C15.83,0.83 24.17,-2.50 30.00,-5.00 C35.83,-7.50 42.17,-12.50 45.00,-10.00 C47.83,-7.50 47.00,4.33 47.00,10.00 C47.00,15.67 47.83,20.33 45.00,24.00 C42.17,27.67 36.67,29.67 30.00,32.00 C23.33,34.33 11.67,36.67 5.00,38.00 C-1.67,39.33 -8.33,43.00 -10.00,40.00Z" fill="#f4eacc"/>
<ellipse cx="62" cy="45" rx="22" ry="18" fill="#78c0a0"/>
<ellipse cx="80" cy="32" rx="8" ry="12" fill="#40b0c0"/>
<ellipse cx="95" cy="36" rx="5" ry="10" fill="#2a2090"/>
<path d="M58.00,44.00 C60.83,38.17 66.33,40.33 75.00,40.00 C83.67,39.67 104.17,30.33 110.00,42.00 C115.83,53.67 118.33,98.67 110.00,110.00 C101.67,121.33 68.67,115.83 60.00,110.00 C51.33,104.17 58.33,86.00 58.00,75.00 C57.67,64.00 55.17,49.83 58.00,44.00Z" fill="#dcdcf2"/>
</g>
<rect x="-5" y="-5" width="110" height="110" filter="url(#spk)"/>
</g></g>
<text x="6.4" y="319.6" font-size="11" text-anchor="start" font-weight="bold" fill="#111" >D</text>
<text x="55.6" y="331.6" font-size="9" text-anchor="middle" font-weight="normal" fill="#222" >PD-1</text>
<text x="106.85" y="331.6" font-size="9" text-anchor="middle" font-weight="normal" fill="#222" >TIM3</text>
<text x="158.1" y="331.6" font-size="9" text-anchor="middle" font-weight="normal" fill="#222" >TCF1</text>
<text x="209.35" y="331.6" font-size="9" text-anchor="middle" font-weight="normal" fill="#222" >EOMES</text>
<text x="260.6" y="331.6" font-size="9" text-anchor="middle" font-weight="normal" fill="#222" >CD28</text>
<text x="311.85" y="331.6" font-size="9" text-anchor="middle" font-weight="normal" fill="#222" >T-bet</text>
<text x="363.1" y="331.6" font-size="9" text-anchor="middle" font-weight="normal" fill="#222" >TOX</text>
<text x="414.35" y="331.6" font-size="9" text-anchor="middle" font-weight="normal" fill="#222" >GZMB</text>
<text x="441.6" y="363.3" font-size="8.4" text-anchor="start" font-weight="normal" fill="#222" >CR</text>
<text x="441.6" y="411.8" font-size="8.4" text-anchor="start" font-weight="normal" fill="#222" >PD</text>
<rect x="459.2" y="388" width="6.1" height="43.9" fill="url(#gD)"/>
<text x="468" y="394.8" font-size="7.3" text-anchor="start" font-weight="normal" fill="#222" >High</text>
<text x="468" y="430.0" font-size="7.3" text-anchor="start" font-weight="normal" fill="#222" >Low</text>
<line x1="22.3" y1="339.5" x2="22.3" y2="399.2" stroke="#222" stroke-width="1"/>
<path d="M20.3,341.2 L22.3,336.1 L24.3,341.2 Z" fill="#222"/>
<text transform="translate(25.2,428.6) rotate(-90)" font-size="8.8" font-weight="bold" fill="#222" textLength="26.6" lengthAdjust="spacingAndGlyphs">UMAP_2</text>
<text x="34.3" y="442.3" font-size="8.2" font-weight="bold" fill="#222" textLength="24.4" lengthAdjust="spacingAndGlyphs">UMAP_1</text>
<line x1="62.1" y1="440.4" x2="434" y2="440.4" stroke="#222" stroke-width="1"/>
<path d="M432,438.2 L437.6,440.4 L432,442.6 Z" fill="#222"/>
<rect x="0" y="0" width="520" height="1" fill="#737373"/><rect x="0" y="0" width="1.1" height="452" fill="#4d4d4d"/><rect x="518.9" y="0" width="1.1" height="452" fill="#4d4d4d"/><rect x="0" y="450.8" width="520" height="1.2" fill="#4d4d4d"/>
</svg>
</body></html>
